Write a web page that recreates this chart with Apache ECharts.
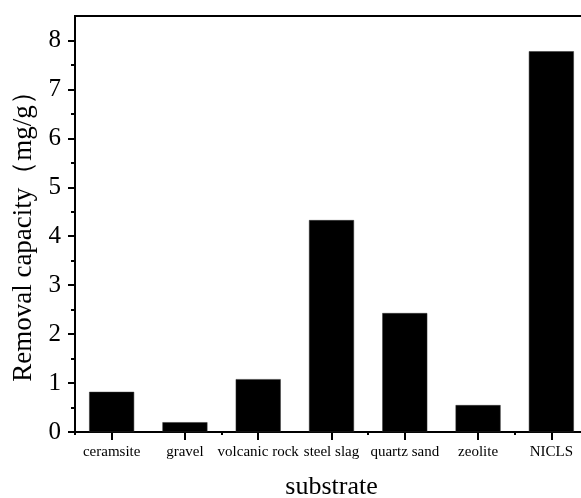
<!DOCTYPE html>
<html>
<head>
<meta charset="utf-8">
<script src="https://cdn.jsdelivr.net/npm/echarts@6/dist/echarts.min.js"></script>
<style>
  html, body { margin: 0; padding: 0; background: #fff; }
  #chart { width: 581px; height: 498px; }
</style>
</head>
<body>
<div id="chart"></div>
<script>
// Substrates and their removal capacity (mg/g)
const categories = ['ceramsite', 'gravel', 'volcanic rock', 'steel slag', 'quartz sand', 'zeolite', 'NICLS'];
const capacity = [0.82, 0.20, 1.08, 4.33, 2.43, 0.55, 7.78];

// Value axis ticks
const majorTicks = [0, 1, 2, 3, 4, 5, 6, 7, 8];
const minorTicks = [0.5, 1.5, 2.5, 3.5, 4.5, 5.5, 6.5, 7.5];
const yMax = 8.5;

const serif = 'Liberation Serif';
const chart = echarts.init(document.getElementById('chart'), null, { renderer: 'canvas' });

chart.setOption({
  backgroundColor: '#fff',
  animation: false,
  grid: {
    left: 75, top: 16, width: 513, height: 416,
    outerBoundsMode: 'none',
    containLabel: false,
    show: true, borderColor: '#000', borderWidth: 2, backgroundColor: 'transparent'
  },
  xAxis: [
    {
      type: 'category',
      data: categories,
      position: 'bottom',
      name: 'substrate',
      nameLocation: 'middle',
      nameGap: 42,
      nameTextStyle: { fontFamily: serif, fontSize: 26, color: '#000' },
      axisLine: { show: true, lineStyle: { color: '#000', width: 2 } },
      axisTick: { show: true, alignWithLabel: true, length: 8, lineStyle: { color: '#000', width: 2 } },
      axisLabel: { interval: 0, margin: 13, fontFamily: serif, fontSize: 15, color: '#000' },
      splitLine: { show: false }
    },
    {
      // short ticks on the category boundaries
      type: 'category',
      data: categories,
      position: 'bottom',
      axisLine: { show: false },
      axisTick: { show: true, length: 3, lineStyle: { color: '#000', width: 2 } },
      axisLabel: { show: false },
      splitLine: { show: false }
    }
  ],
  yAxis: [
    {
      type: 'value',
      min: 0,
      max: yMax,
      interval: 1,
      name: 'Removal capacity（mg/g）',
      nameLocation: 'middle',
      nameGap: 36,
      nameTextStyle: { fontFamily: serif, fontSize: 27, color: '#000', padding: [0, 12, 0, 0] },
      axisLine: { show: true, lineStyle: { color: '#000', width: 2 } },
      axisTick: { show: true, length: 7, customValues: majorTicks, lineStyle: { color: '#000', width: 2 } },
      axisLabel: { customValues: majorTicks, margin: 14, fontFamily: serif, fontSize: 25, color: '#000' },
      splitLine: { show: false }
    },
    {
      // minor ticks at the half units
      type: 'value',
      min: 0,
      max: yMax,
      position: 'left',
      axisLine: { show: false },
      axisTick: { show: true, length: 4, customValues: minorTicks, lineStyle: { color: '#000', width: 2 } },
      axisLabel: { show: false },
      splitLine: { show: false }
    }
  ],
  series: [
    {
      type: 'bar',
      xAxisIndex: 0,
      yAxisIndex: 0,
      data: capacity,
      barWidth: 45,
      itemStyle: { color: '#000', borderColor: '#333', borderWidth: 0.5 }
    }
  ]
});
</script>
</body>
</html>
